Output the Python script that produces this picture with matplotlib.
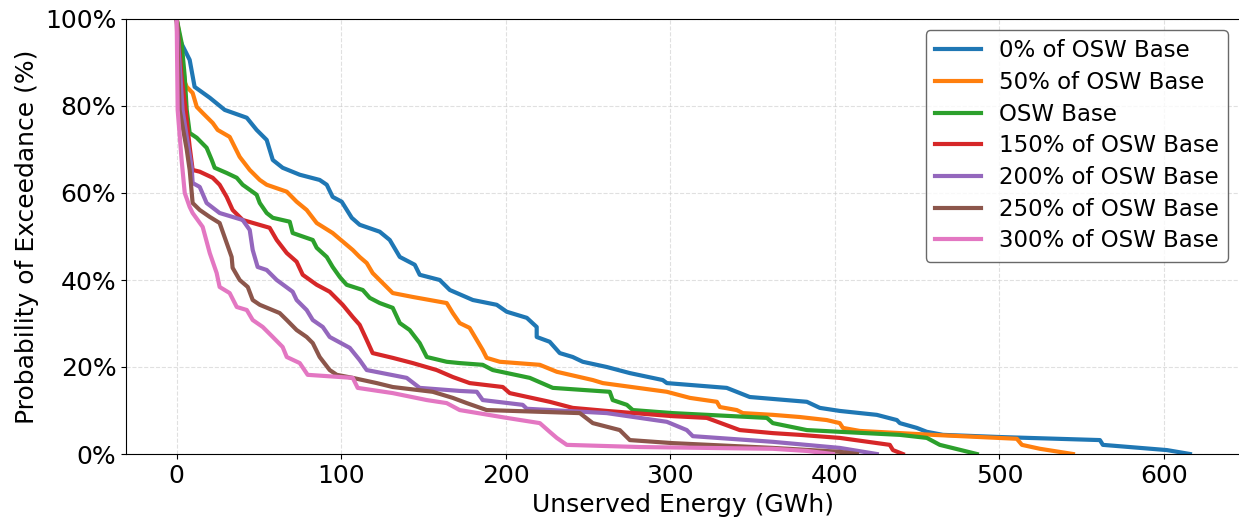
import matplotlib
matplotlib.use("Agg")
import matplotlib.pyplot as plt
from matplotlib.ticker import PercentFormatter

labels = ["0% of OSW Base", "50% of OSW Base", "OSW Base", "150% of OSW Base",
          "200% of OSW Base", "250% of OSW Base", "300% of OSW Base"]
colors = ["#1f77b4", "#ff7f0e", "#2ca02c", "#d62728", "#9467bd", "#8c564b", "#e377c2"]

x_0 = [0, 1.8, 7.9, 10.9, 20.1, 29.2, 42.6, 48.6, 54.7, 58.4, 64.4, 74.8, 86.9, 91.2, 94.8, 100.3,
       106.4, 111.2, 123.4, 129.5, 135.6, 144.7, 147.7, 159.9, 166, 180, 194.5, 200.6, 212.8, 218.8,
       218.8, 226.7, 232.8, 240.7, 246.8, 261.4, 275.4, 295.4, 297.9, 334.3, 348.3, 383, 390.9, 403,
       425.5, 437.7, 439.5, 449.8, 455.9, 465.7, 500.3, 561.1, 562.9, 601.8, 615.8]
y_0 = [100, 95.2, 90.6, 84.4, 81.9, 79.1, 77.3, 74.5, 72.2, 67.6, 65.8, 64.2, 63.0, 61.9, 59.1, 58.0,
       54.3, 52.7, 51.1, 49.2, 45.3, 43.5, 41.2, 40.0, 37.7, 35.4, 34.3, 32.7, 31.3, 29.2,
       26.9, 25.8, 23.2, 22.3, 21.2, 20.0, 18.6, 17.0, 16.3, 15.2, 13.1, 12.0, 10.6, 9.9,
       9.0, 7.8, 7.1, 6.0, 5.1, 4.4, 3.9, 3.2, 2.1, 0.9, 0]

x_50 = [0, 1.8, 3.6, 6.1, 9.7, 12.2, 15.8, 21.9, 24.9, 32.2, 38.3, 44.4, 50.5, 54.7, 66.9, 72.9,
        79, 85.1, 94.8, 107, 111.2, 115.5, 119.1, 125.2, 131.3, 143.5, 164.1, 167.8, 172, 178,
        182.4, 186, 188.4, 196.4, 220.7, 231, 252.9, 259, 297.9, 311.9, 328.3, 330.1, 340.4, 344.1,
        362.3, 378.7, 395.1, 403, 404.9, 415.2, 459.6, 510.6, 513.7, 524.6, 544.7]
y_50 = [100, 95.9, 86.7, 84.4, 83.0, 79.8, 78.4, 76.1, 74.5, 72.9, 68.3, 65.3, 63.0, 61.9, 60.3, 58.0,
        56.1, 53.1, 50.8, 46.9, 45.3, 43.9, 41.6, 39.3, 37.0, 36.1, 34.7, 32.4, 30.1, 29.0,
        26.2, 23.9, 22.1, 21.2, 20.5, 18.9, 17.0, 16.3, 14.3, 12.9, 12.0, 10.8, 10.1, 9.4,
        9.0, 8.5, 7.8, 7.1, 6.0, 5.3, 4.4, 3.5, 2.1, 1.2, 0]

x_100 = [0, 3.0, 4.9, 6.1, 7.9, 12.2, 18.2, 21.3, 23.1, 30.4, 36.5, 40.1, 48.6, 50.5, 54.7, 58.4,
         68.7, 70.5, 82.7, 85.1, 91.2, 94.8, 99.1, 103.3, 113.1, 117.3, 123.4, 131.3, 135.6, 141.6,
         147.7, 152, 164.1, 172, 186, 192.1, 214.6, 228.6, 263.2, 265, 273.6, 277.2, 301.5, 358.7,
         362.3, 383, 403, 439.5, 455.9, 463.8, 486.3]
y_100 = [100, 94.5, 86.7, 79.1, 73.8, 72.7, 70.4, 67.6, 65.8, 64.6, 63.5, 61.9, 59.6, 57.7, 55.4, 54.3,
         53.4, 50.8, 49.2, 47.4, 45.3, 43.0, 40.7, 38.9, 37.7, 35.9, 34.7, 33.6, 30.1, 28.5,
         25.5, 22.3, 21.2, 20.9, 20.5, 19.3, 17.5, 15.2, 14.3, 12.4, 11.3, 10.1, 9.4, 8.3,
         7.1, 5.5, 5.1, 4.4, 3.7, 2.1, 0]

x_150 = [0, 3.0, 4.9, 7.9, 9.7, 14, 21.9, 26.1, 30.4, 34, 40.1, 56.5, 60.8, 66.9, 72.9, 76.6,
         85.1, 93, 100.9, 107, 111.2, 115.5, 119.1, 131.3, 143.5, 158, 167.8, 178.1, 198.2, 202.4,
         226.7, 240.7, 261.4, 301.5, 322.2, 342.2, 362.3, 378.7, 403, 433.4, 435.3, 441.3]
y_150 = [100, 86.7, 80.7, 70.6, 65.3, 64.9, 63.5, 61.9, 59.1, 56.1, 53.8, 52.0, 49.2, 46.2, 44.2, 41.2,
         38.9, 37.3, 34.3, 31.5, 29.7, 26.2, 23.2, 22.1, 20.9, 19.3, 17.7, 16.3, 15.4, 14.0,
         12.0, 10.6, 9.9, 8.7, 8.3, 5.5, 4.8, 4.4, 3.7, 2.1, 0.9, 0]

x_200 = [0, 3.6, 6.7, 9.1, 9.7, 14, 18.2, 26.1, 40.1, 44.4, 46.2, 49.2, 54.7, 60.8, 70.5, 72.9,
         79, 82.7, 88.8, 93, 105.2, 111.2, 115.5, 139.8, 147.7, 172, 182.4, 186, 210.3, 212.8,
         261.4, 297.9, 310, 313.7, 362.3, 403, 425.5]
y_200 = [100, 79.1, 71.5, 66.0, 62.3, 61.4, 57.7, 55.4, 53.8, 51.5, 46.9, 43.0, 42.3, 40.0, 37.3, 35.4,
         33.1, 30.8, 29.2, 26.9, 24.4, 21.6, 19.3, 17.5, 15.2, 14.5, 14.3, 12.4, 11.3, 10.4,
         9.4, 7.4, 5.5, 4.1, 2.8, 1.4, 0]

x_250 = [0, 1.8, 6.1, 7.9, 9.7, 14, 20.1, 26.1, 30.4, 33.4, 34, 38.3, 43.2, 46.2, 50.5, 62.6,
         66.9, 72.9, 79, 82.7, 86.9, 93, 97.3, 107, 121.6, 131.3, 155.6, 167.8, 176.3, 188.4,
         245, 252.9, 269.3, 275.4, 301.5, 362.3, 403, 413.4]
y_250 = [100, 79.1, 70.0, 65.3, 57.7, 56.1, 54.5, 53.1, 48.5, 45.3, 42.8, 40.0, 38.4, 35.4, 34.3, 32.4,
         30.8, 28.5, 26.9, 25.5, 22.3, 19.3, 18.2, 17.5, 16.3, 15.4, 14.3, 12.9, 11.7, 10.1,
         9.4, 7.1, 5.5, 3.2, 2.5, 1.4, 0.5, 0]

x_300 = [0, 0.6, 3.0, 4.9, 7.9, 9.7, 15.8, 20.1, 24.3, 26.1, 32.2, 36.5, 42.6, 46.2, 52.3, 58.4,
         64.4, 66.9, 74.8, 79.6, 107, 110, 131.3, 152, 164.1, 172, 200.6, 220.7, 226.7, 231,
         237.1, 281.5, 362.3, 383, 398.8]
y_300 = [100, 79.1, 67.6, 60.0, 56.8, 55.4, 52.2, 46.2, 41.6, 38.4, 37.0, 33.8, 33.1, 30.8, 29.2, 26.9,
         24.6, 22.3, 20.9, 18.2, 17.5, 15.2, 14.0, 12.4, 11.7, 10.1, 8.3, 7.1, 5.1, 3.7,
         2.1, 1.6, 1.2, 0.7, 0]

series_x = [x_0, x_50, x_100, x_150, x_200, x_250, x_300]
series_y = [y_0, y_50, y_100, y_150, y_200, y_250, y_300]

fig = plt.figure(figsize=(12.39, 5.21), dpi=100)
ax = fig.add_axes([126 / 1239, (521 - 454) / 521, (1240.6 - 126) / 1239, (454 - 19) / 521])

for xs, ys, lab, c in zip(series_x, series_y, labels, colors):
    ax.plot(xs, ys, color=c, lw=3, label=lab)

ax.set_xlim(-30.8, 646.6)
ax.set_ylim(0, 100)
ax.set_xticks([0, 100, 200, 300, 400, 500, 600])
ax.set_yticks([0, 20, 40, 60, 80, 100])
ax.yaxis.set_major_formatter(PercentFormatter(decimals=0))
ax.tick_params(labelsize=18)
ax.set_xlabel("Unserved Energy (GWh)", fontsize=18)
ax.set_ylabel("Probability of Exceedance (%)", fontsize=18)
ax.grid(True, linestyle="--", color="#cccccc", alpha=0.6)
leg = ax.legend(loc="upper right", fontsize=16.5, bbox_to_anchor=(0.9887, 0.9747),
                borderaxespad=0, labelspacing=0.38)
leg.get_frame().set_edgecolor("#444444")

fig.savefig("out.png", dpi=100)
